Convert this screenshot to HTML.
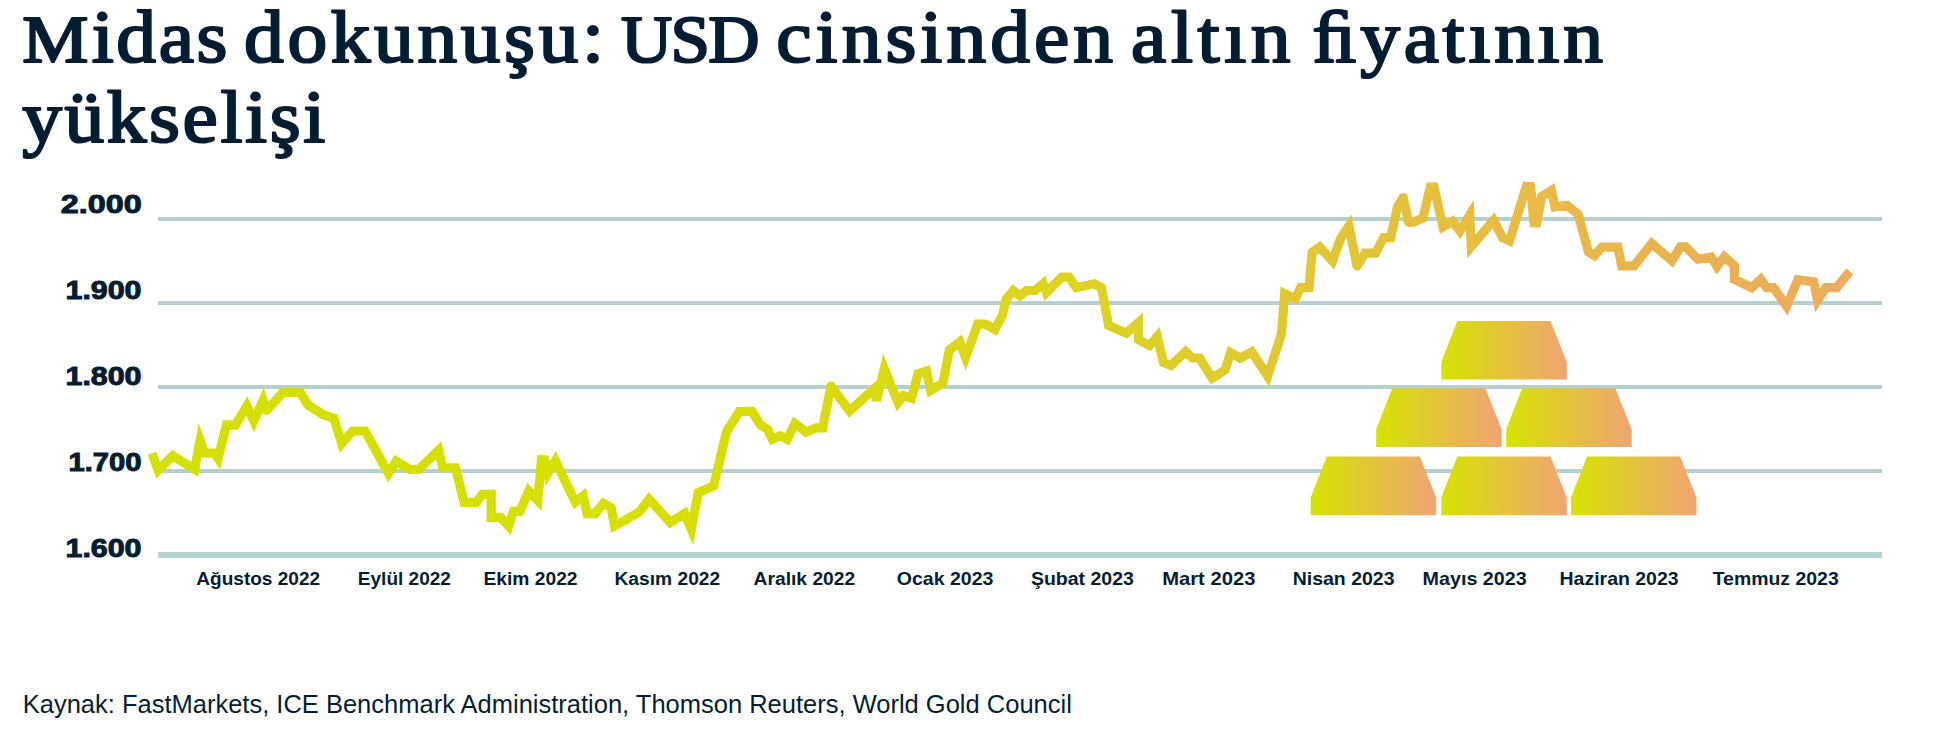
<!DOCTYPE html>
<html><head><meta charset="utf-8">
<style>
html,body{margin:0;padding:0;background:#fff;}
body{width:1940px;height:755px;overflow:hidden;position:relative;}
svg{position:absolute;left:0;top:0;}
</style></head><body>
<svg width="1940" height="755" viewBox="0 0 1940 755">
<defs>
<linearGradient id="lg" gradientUnits="userSpaceOnUse" x1="150" y1="0" x2="1850" y2="0">
<stop offset="0" stop-color="#d4e000"/>
<stop offset="0.30" stop-color="#d6df00"/>
<stop offset="0.53" stop-color="#dcd420"/>
<stop offset="0.716" stop-color="#e2c438"/>
<stop offset="0.81" stop-color="#e8bb46"/>
<stop offset="0.90" stop-color="#e9b250"/>
<stop offset="1" stop-color="#ecad5d"/>
</linearGradient>
<linearGradient id="bg" x1="0" y1="0" x2="1" y2="0">
<stop offset="0" stop-color="#d5e300"/>
<stop offset="0.5" stop-color="#e3c43a"/>
<stop offset="1" stop-color="#f0a474"/>
</linearGradient>
<path id="bar" d="M16,0 H109.2 L125.5,41 V58.7 H0 V41 Z"/>
</defs>
<g font-family="Liberation Serif" fill="#041d32" stroke="#041d32" stroke-width="2.2" stroke-linejoin="round">
<text transform="translate(22.24,62.3) scale(1.1100,1)" font-size="67">M</text>
<text transform="translate(91.63,62.3) scale(1.0600,1)" font-size="75.0" letter-spacing="2.471">idas</text>
<text transform="translate(244.04,62.3) scale(1.0600,1)" font-size="75.0" letter-spacing="3.399">dokunuşu:</text>
<text transform="translate(621.01,62.3) scale(1.0600,1)" font-size="67" letter-spacing="-1.702">USD</text>
<text transform="translate(776.28,62.3) scale(1.0600,1)" font-size="75.0" letter-spacing="3.784">cinsinden</text>
<text transform="translate(1131.12,62.3) scale(1.0600,1)" font-size="75.0" letter-spacing="4.293">altın</text>
<text transform="translate(1312.34,62.3) scale(1.0600,1)" font-size="75.0" letter-spacing="3.475">ﬁyatının</text>
<text transform="translate(22.15,142.0) scale(1.0600,1)" font-size="75.0" letter-spacing="2.425">yükselişi</text>
</g>
<g fill="#b6d0d0">
<rect x="158" y="217" width="1724" height="4"/>
<rect x="158" y="301" width="1724" height="4"/>
<rect x="158" y="385" width="1724" height="4"/>
<rect x="158" y="469" width="1724" height="4"/>
<rect x="158" y="552" width="1724" height="6"/>
</g>
<g font-family="Liberation Sans" font-weight="bold" font-size="26.5" fill="#041d32" stroke="#041d32" stroke-width="1">
<text transform="translate(60.77,212.8) scale(1.2195,1)">2.000</text>
<text transform="translate(65.48,298.6) scale(1.1472,1)">1.900</text>
<text transform="translate(65.48,384.7) scale(1.1472,1)">1.800</text>
<text transform="translate(68.46,470.5) scale(1.1015,1)">1.700</text>
<text transform="translate(65.48,556.6) scale(1.1472,1)">1.600</text>
</g>
<g fill="url(#bg)">
<use href="#bar" x="1441.3" y="320.9"/>
<use href="#bar" x="1376.2" y="388.3"/>
<use href="#bar" x="1506.2" y="388.3"/>
<use href="#bar" x="1310.7" y="456.5"/>
<use href="#bar" x="1441.3" y="456.5"/>
<use href="#bar" x="1571" y="456.5"/>
</g>
<g fill="none" stroke="url(#lg)" stroke-width="9.2" stroke-linejoin="miter" stroke-miterlimit="10">
<polyline points="152,453.1 158.2,470.1 172.8,455.8 194.7,469.4 200.1,440.5 204.8,453.1 214.3,453.1 218,458.5 226.5,424.8 235.5,425 246.8,406 253.8,421 263.1,400 266.5,410.5"/>
<polyline points="266.5,410.5 283,392.3"/>
<polyline points="283,392.3 300.2,392.3 308.1,405.1"/>
<polyline points="308.1,405.1 322.7,414.4"/>
<polyline points="322.7,414.4 334,418.3 341.8,443.6 352.5,431 365.1,431 388.5,473.5 396.2,461.2 410.1,469.5 418.7,469.5"/>
<polyline points="418.7,469.5 438.6,450.1 442.7,467.5 455.4,467.7 464.2,502.3 476.1,502.3 482.5,494.4 491.2,494.4 491.2,517.4 500.7,517.4 508.7,526.2 513.5,511.4 519.8,511.4 528.8,491 537.8,500.5 541.5,459.8 544.8,459.9 547.8,473.5 555.4,460.7 575.3,502 583.2,495.8 587.2,513.6 595.2,513.6 603.4,503.3 611.1,507.6 614.6,525.9 639,512.3 649.1,499.2 670.3,522.5 684.7,513.4 691.3,529.3 698.3,492.5 713.7,485.9 726.5,431.8 739.3,411.5 751.9,411.4 760.5,424.9 767.7,429.5 772.3,439.3 780.3,435.8 787.2,439.5 794.9,423.6 806.2,432.2 816.1,427.8 822.7,427.8 831,386"/>
<polyline points="831,386 849.6,410.9 876,387 876,397 877.5,397 884.3,368.7 898,402.5 903.5,395.6 911.5,398.3 918.1,373.8 926.5,371 930.7,390.5 943,383 949.3,350.1 959.8,342 965.6,357.5 977.7,324.2 985.4,324.2 994.9,329.4 1002.6,314.8 1006.1,299.3 1013.3,290.7 1019.9,295.8 1026.5,290.6 1035,290.5 1043.3,283.5 1046.5,292.5 1061.7,277.2 1069,277.2 1076.3,287.7 1094.2,283.8 1101.5,287.7 1108.7,325.5 1126.2,333.2 1138.5,322.5 1138.5,339.7 1149.5,345.5 1157.3,336.5 1163.5,362.5 1171,365.5 1185.6,351.7 1192.2,358 1199.5,358 1212.3,378.1 1225,370 1230.6,352.6 1240.1,358.3 1251.8,351.9 1267.7,376.3 1281.5,333.9 1284.7,293.6 1295.3,298.9 1300.6,287.7 1309,287.7 1312.2,252.3 1319.6,247 1332.5,261 1340.7,238.4 1349,226 1357,266"/>
<polyline points="1357,266 1365.3,253.1 1375.6,253 1383.6,237.6 1390.7,237.6 1397.5,207 1403.2,197.5"/>
<polyline points="1403.2,197.5 1408.5,222.5"/>
<polyline points="1408.5,222.5 1414,222 1423,218 1430.3,187 1434,187 1443.1,226.8 1452.6,221.2 1460,231 1469.8,215 1471.3,246.5 1493.5,220.5 1502.7,237.9 1509.5,240.8 1526.5,186.2 1530.5,186.5 1534,222.8 1536.7,222.8 1541.5,196.6 1551.5,190.5 1555,206.9 1566.9,205.3 1578,214.1 1588.5,252 1594.5,255.5 1601.9,247.1 1617.8,247.1 1621.8,265.8 1634,265.8 1651.8,243.5 1672,260.8 1680.4,246.8 1685.7,246.8 1697.9,259.2 1711.2,257.1 1717,266.6 1724.4,256.8 1734.4,265.7 1734.4,279.3 1751.8,287.7 1760.8,279.2 1766.6,287.7 1773.5,287.7 1786.6,306.2 1797.9,279.7 1813.8,281.9 1817.5,300.5 1826,287.7 1836.6,287.7 1849.8,271.3"/>
</g>
<g fill="url(#lg)">
<circle cx="266.5" cy="410.5" r="4.6"/>
<circle cx="283" cy="392.3" r="4.6"/>
<circle cx="308.1" cy="405.1" r="4.6"/>
<circle cx="322.7" cy="414.4" r="4.6"/>
<circle cx="418.7" cy="469.5" r="4.6"/>
<circle cx="831" cy="386" r="4.6"/>
<circle cx="1357" cy="266" r="4.6"/>
<circle cx="1403.2" cy="197.5" r="4.6"/>
<circle cx="1408.5" cy="222.5" r="4.6"/>
</g>
<g font-family="Liberation Sans" font-weight="bold" font-size="18.6" fill="#041d32">
<text transform="translate(196.32,585) scale(1.0240,1)">Ağustos 2022</text>
<text transform="translate(357.82,585) scale(1.0236,1)">Eylül 2022</text>
<text transform="translate(483.51,585) scale(1.0337,1)">Ekim 2022</text>
<text transform="translate(614.51,585) scale(1.0330,1)">Kasım 2022</text>
<text transform="translate(753.62,585) scale(1.0347,1)">Aralık 2022</text>
<text transform="translate(896.70,585) scale(1.0517,1)">Ocak 2023</text>
<text transform="translate(1030.93,585) scale(1.0485,1)">Şubat 2023</text>
<text transform="translate(1162.14,585) scale(1.0881,1)">Mart 2023</text>
<text transform="translate(1292.69,585) scale(1.0476,1)">Nisan 2023</text>
<text transform="translate(1422.58,585) scale(1.0599,1)">Mayıs 2023</text>
<text transform="translate(1559.49,585) scale(1.0472,1)">Haziran 2023</text>
<text transform="translate(1712.69,585) scale(1.0457,1)">Temmuz 2023</text>
</g>
<text transform="translate(22.71,713.2) scale(0.9925,1)" font-family="Liberation Sans" font-size="25.7" fill="#041d32">Kaynak: FastMarkets, ICE Benchmark Administration, Thomson Reuters, World Gold Council</text>
</svg>
</body></html>
